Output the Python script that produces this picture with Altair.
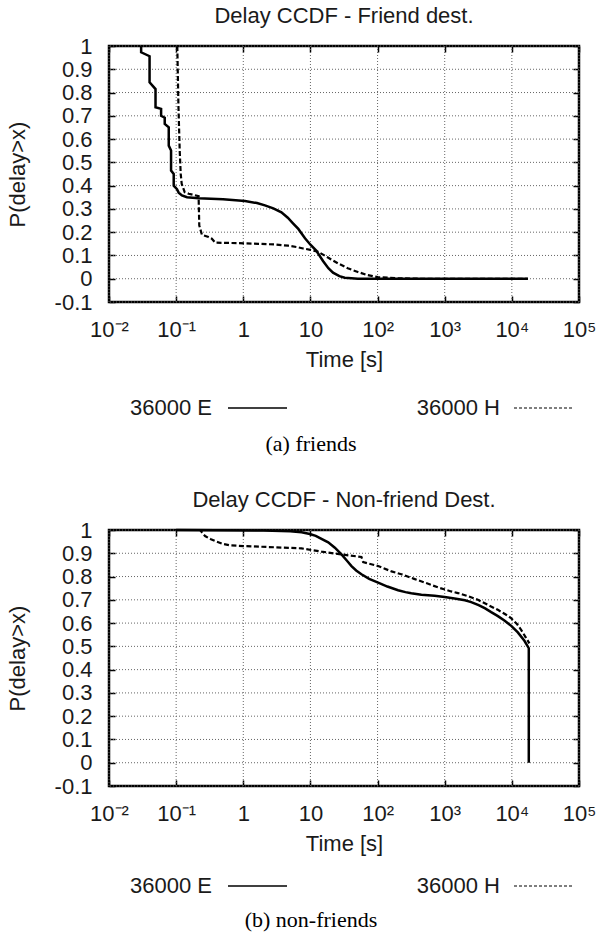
import altair as alt
import pandas as pd

SERIES = ["36000 E", "36000 H"]
X_TICKS = [0.01, 0.1, 1, 10, 100, 1000, 10000, 100000]
X_LABELS = ["10⁻²", "10⁻¹", "1", "10", "10²", "10³", "10⁴", "10⁵"]
Y_TICKS = [-0.1, 0, 0.1, 0.2, 0.3, 0.4, 0.5, 0.6, 0.7, 0.8, 0.9, 1]
Y_LABELS = ["-0.1", "0", "0.1", "0.2", "0.3", "0.4", "0.5", "0.6", "0.7", "0.8", "0.9", "1"]

TITLES = ["Delay CCDF - Friend dest.", "Delay CCDF - Non-friend Dest."]
CAPTIONS = ["(a)  friends", "(b)  non-friends"]

# (a) friends, series 36000 E
FE_T = [0.0301, 0.0301, 0.0402, 0.0402, 0.0493, 0.0493, 0.0597, 0.0597, 0.0676, 0.0676,
        0.0776, 0.0776, 0.0840, 0.0840, 0.0920, 0.0920, 0.103, 0.109, 0.122, 0.145,
        0.216, 0.5, 1.06, 1.6, 2.1, 2.8, 3.7, 4.6, 5.5, 6.6, 8.3, 10.0, 12.2, 15.4,
        18.5, 21.7, 27.0, 32.4, 50.9, 17340]
FE_P = [1.0, 0.973, 0.956, 0.844, 0.815, 0.737, 0.730, 0.700, 0.692, 0.665,
        0.651, 0.572, 0.551, 0.465, 0.450, 0.400, 0.385, 0.370, 0.358, 0.350,
        0.346, 0.342, 0.334, 0.325, 0.315, 0.302, 0.285, 0.262, 0.238, 0.214, 0.174,
        0.146, 0.121, 0.076, 0.045, 0.026, 0.011, 0.004, 0.0, 0.0]
# (a) friends, series 36000 H
FH_T = [0.104, 0.108, 0.113, 0.117, 0.121, 0.134, 0.154, 0.216, 0.221, 0.242,
        0.304, 0.340, 0.382, 0.847, 1.676, 3.0, 4.67, 6.3, 7.79, 10.0, 13.0, 18.0,
        25.8, 36.0, 50.9, 70.0, 100.9, 200, 400, 17340]
FH_P = [1.0, 0.75, 0.55, 0.45, 0.408, 0.372, 0.365, 0.355, 0.229, 0.189,
        0.179, 0.172, 0.155, 0.153, 0.150, 0.147, 0.142, 0.136, 0.130, 0.124, 0.116,
        0.092, 0.066, 0.045, 0.029, 0.016, 0.007, 0.002, 0.0, 0.0]

# (b) non-friends, series 36000 E
NE_T = [0.1, 2.0, 5.0, 7.38, 9.8, 12.0, 14.6, 18.4, 23.1, 29.0, 35.0, 40.9, 48.0,
        57.5, 75.0, 102, 140, 202, 260, 318, 450, 707, 995, 1400, 2000, 2480, 3200,
        4000, 4920, 6200, 7740, 9800, 12270, 15380, 17870, 17870]
NE_P = [1.0, 0.998, 0.995, 0.990, 0.983, 0.975, 0.962, 0.947, 0.924, 0.895, 0.868,
        0.845, 0.826, 0.810, 0.790, 0.774, 0.757, 0.741, 0.733, 0.728, 0.722, 0.717,
        0.712, 0.706, 0.698, 0.690, 0.677, 0.663, 0.647, 0.630, 0.611, 0.588, 0.560,
        0.524, 0.492, 0.0]
# (b) non-friends, series 36000 H
NH_T = [0.1, 0.228, 0.25, 0.27, 0.33, 0.403, 0.5, 0.635, 1.0, 1.88, 7.38, 14.6, 29.0,
        57.5, 61.0, 102, 161, 226, 350, 530, 800, 1250, 1573, 2200, 3120, 4500, 6180,
        8000, 9750, 12000, 13740, 16000, 18240]
NH_P = [1.0, 1.0, 0.985, 0.974, 0.960, 0.950, 0.940, 0.934, 0.931, 0.928, 0.921,
        0.907, 0.895, 0.884, 0.862, 0.845, 0.822, 0.810, 0.790, 0.772, 0.753, 0.736,
        0.729, 0.716, 0.700, 0.677, 0.657, 0.638, 0.621, 0.595, 0.571, 0.540, 0.513]

SANS = "Liberation Sans"
SERIF = "Liberation Serif"
TXT = "#1a1a1a"
FS = 22
W, H = 470, 256

x_label_expr = "[" + ",".join("'%s'" % s for s in X_LABELS) + "][indexof([" + \
    ",".join(repr(v) for v in X_TICKS) + "], datum.value)]"
y_label_expr = "[" + ",".join("'%s'" % s for s in Y_LABELS) + "][indexof([" + \
    ",".join(repr(v) for v in Y_TICKS) + "], datum.value)]"

x_scale = alt.Scale(type="log", domain=[0.01, 100000], nice=False)
y_scale = alt.Scale(domain=[-0.1, 1], nice=False, zero=False)

common_axis = dict(offset=-6, tickSize=6, tickColor="black", tickWidth=1.5,
                   domain=False, grid=False, labelFont=SANS, labelFontSize=FS,
                   labelColor=TXT, titleFont=SANS, titleFontSize=FS,
                   titleFontWeight="normal", titleColor=TXT)

grid_style = dict(color="#666", strokeWidth=1, strokeDash=[1, 2])


def panel(idx, e_t, e_p, h_t, h_p, leg_y, cap_y):
    de = pd.DataFrame({"t": e_t, "p": e_p, "i": range(len(e_t)), "s": SERIES[0]})
    dh = pd.DataFrame({"t": h_t, "p": h_p, "i": range(len(h_t)), "s": SERIES[1]})
    gx = pd.DataFrame({"t": X_TICKS})
    gy = pd.DataFrame({"p": Y_TICKS})

    grid_x = alt.Chart(gx).mark_rule(**grid_style).encode(
        x=alt.X("t:Q", scale=x_scale, axis=None))
    grid_y = alt.Chart(gy).mark_rule(**grid_style).encode(
        y=alt.Y("p:Q", scale=y_scale, axis=None))

    line_e = alt.Chart(de).mark_line(color="black", strokeWidth=2.5).encode(
        x=alt.X("t:Q", scale=x_scale,
                axis=alt.Axis(orient="bottom", values=X_TICKS, labelExpr=x_label_expr,
                              labelPadding=17, title="Time [s]",
                              titlePadding=9, labelFlush=False, labelOverlap=False,
                              **common_axis)),
        y=alt.Y("p:Q", scale=y_scale,
                axis=alt.Axis(orient="left", values=Y_TICKS, labelExpr=y_label_expr,
                              labelPadding=17, title="P(delay>x)",
                              titlePadding=25, labelFlush=False, labelOverlap=False,
                              **common_axis)),
        order="i:Q",
    )
    line_h = alt.Chart(dh).mark_line(color="black", strokeWidth=2.2,
                                     strokeDash=[5, 2.5]).encode(
        x=alt.X("t:Q", scale=x_scale,
                axis=alt.Axis(orient="top", values=X_TICKS, labels=False,
                              title=None, **common_axis)),
        y=alt.Y("p:Q", scale=y_scale,
                axis=alt.Axis(orient="right", values=Y_TICKS, labels=False,
                              title=None, **common_axis)),
        order="i:Q",
    )

    lab = pd.DataFrame({"s": SERIES, "c": [CAPTIONS[idx]] * 2})
    leg_e_txt = alt.Chart(lab.iloc[[0]]).mark_text(
        align="right", baseline="middle", font=SANS, fontSize=FS, color=TXT).encode(
        text="s:N", x=alt.value(103), y=alt.value(leg_y))
    leg_e_line = alt.Chart(lab.iloc[[0]]).mark_rule(color="black", strokeWidth=1.5).encode(
        x=alt.value(119), x2=alt.value(178), y=alt.value(leg_y))
    leg_h_txt = alt.Chart(lab.iloc[[1]]).mark_text(
        align="right", baseline="middle", font=SANS, fontSize=FS, color=TXT).encode(
        text="s:N", x=alt.value(391), y=alt.value(leg_y))
    leg_h_line = alt.Chart(lab.iloc[[1]]).mark_rule(color="black", strokeWidth=1.2,
                                                    strokeDash=[3, 2]).encode(
        x=alt.value(405), x2=alt.value(465), y=alt.value(leg_y))
    cap = alt.Chart(lab.iloc[[0]]).mark_text(
        align="center", baseline="middle", font=SERIF, fontSize=FS, color="black").encode(
        text="c:N", x=alt.value(202), y=alt.value(cap_y))

    return alt.layer(grid_x, grid_y, line_e, line_h, leg_e_txt, leg_e_line,
                     leg_h_txt, leg_h_line, cap).resolve_axis(
        x="independent", y="independent"
    ).properties(
        width=W, height=H,
        title=alt.TitleParams(TITLES[idx], font=SANS, fontSize=FS, fontWeight="normal",
                              color=TXT, anchor="middle", frame="group", offset=7),
    )


top = panel(0, FE_T, FE_P, FH_T, FH_P, 362, 398)
bottom = panel(1, NE_T, NE_P, NH_T, NH_P, 356, 390)

chart = alt.vconcat(top, bottom, spacing=228, bounds="flush").properties(
    padding={"left": 4, "top": 3, "right": 0, "bottom": 0}
).configure_view(stroke="black", strokeWidth=2.5)

chart.save("out.html", embed_options={"renderer": "svg", "actions": False})
